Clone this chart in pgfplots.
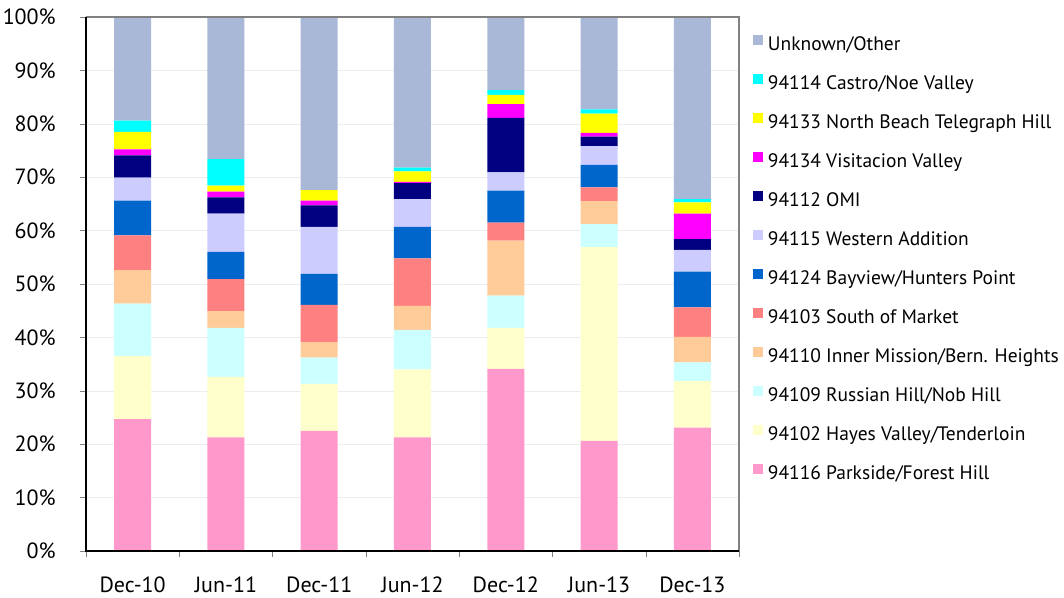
\documentclass[border=0pt]{standalone}
\usepackage{pgfplots}
\pgfplotsset{compat=1.18}
\usepackage{pgfplotstable}
\usepackage{fontspec}
\setmainfont{PT Sans}
\definecolor{cgray}{HTML}{A8B8D6}
\definecolor{ccyan}{HTML}{00FFFF}
\definecolor{cyel}{HTML}{FFFF00}
\definecolor{cmag}{HTML}{FF00FF}
\definecolor{cnavy}{HTML}{000080}
\definecolor{clav}{HTML}{CCCCFF}
\definecolor{cblue}{HTML}{0066CC}
\definecolor{csal}{HTML}{FF8080}
\definecolor{cpeach}{HTML}{FFCC99}
\definecolor{clc}{HTML}{CCFFFF}
\definecolor{cly}{HTML}{FFFFCC}
\definecolor{cpink}{HTML}{FF99CC}
\pgfplotstableread{
x pink ly lc peach salmon blue lav navy mag yel cyan gray
0 24.7 11.8 9.8 6.3 6.5 6.5 4.3 4.2 1.1 3.3 2.1 19.4
1 21.3 11.3 9.2 3.1 6.0 5.1 7.2 3.0 1.1 1.1 5.0 26.6
2 22.5 8.8 4.9 2.9 7.0 5.8 8.8 4.0 0.9 2.0 0.0 32.4
3 21.3 12.7 7.4 4.5 8.9 5.9 5.2 3.0 0.2 2.0 0.7 28.2
4 34.1 7.7 6.0 10.3 3.4 6.0 3.4 10.2 2.6 1.7 0.9 13.7
5 20.6 36.3 4.3 4.3 2.6 4.2 3.5 1.8 0.7 3.6 0.8 17.3
6 23.1 8.7 3.5 4.8 5.5 6.7 4.1 2.0 4.8 2.1 0.6 34.1
}\data
\begin{document}
\begin{tikzpicture}
\useasboundingbox (-64.5pt,-35.25pt) rectangle (733.5pt,413.25pt);
\begin{axis}[
  at={(0,0)}, anchor=south west,
  scale only axis, width=489.75pt, height=400.5pt,
  ybar stacked, bar width=27.75pt,
  xmin=-0.5, xmax=6.5, ymin=0, ymax=100,
  xtick={0,...,6},
  xticklabels={Dec-10,Jun-11,Dec-11,Jun-12,Dec-12,Jun-13,Dec-13},
  major x tick style={draw=none},
  minor xtick={-0.5,0.5,1.5,2.5,3.5,4.5,5.5,6.5},
  minor x tick style={gray},
  minor tick length=4.5pt,
  major tick length=4.5pt,
  tick align=outside,
  xtick pos=bottom, ytick pos=left,
  ytick={0,10,...,100},
  yticklabel={\pgfmathprintnumber{\tick}\%},
  y tick style={gray},
  ymajorgrids, grid style={color=black!7},
  axis line style={draw=none},
  /pgf/number format/assume math mode=true,
  ticklabel style={font=\fontsize{16.5}{19}\selectfont},
  xticklabel style={anchor=base, inner sep=0pt, yshift=-27pt},
  yticklabel style={anchor=east, inner sep=0pt, xshift=-18pt},
  legend style={at={(rel axis cs:1,1)}, anchor=north west, xshift=10.5pt, yshift=-13.2pt,
    draw=none, fill=none, inner sep=0pt, outer sep=0pt,
    font=\fontsize{14.6}{18}\selectfont, row sep=14pt, column sep=3.75pt,
    nodes={inner sep=0pt, text height=11pt, text depth=3pt}},
  legend cell align=left,
  reverse legend,
  legend image code/.code={\fill[#1] (0pt,0.75pt) rectangle (7.5pt,8.25pt);},
]
\addplot[fill=cpink, draw=none] table[x=x, y=pink] {\data};
\addplot[fill=cly, draw=none] table[x=x, y=ly] {\data};
\addplot[fill=clc, draw=none] table[x=x, y=lc] {\data};
\addplot[fill=cpeach, draw=none] table[x=x, y=peach] {\data};
\addplot[fill=csal, draw=none] table[x=x, y=salmon] {\data};
\addplot[fill=cblue, draw=none] table[x=x, y=blue] {\data};
\addplot[fill=clav, draw=none] table[x=x, y=lav] {\data};
\addplot[fill=cnavy, draw=none] table[x=x, y=navy] {\data};
\addplot[fill=cmag, draw=none] table[x=x, y=mag] {\data};
\addplot[fill=cyel, draw=none] table[x=x, y=yel] {\data};
\addplot[fill=ccyan, draw=none] table[x=x, y=cyan] {\data};
\addplot[fill=cgray, draw=none] table[x=x, y=gray] {\data};
\legend{94116 Parkside/Forest Hill, 94102 Hayes Valley/Tenderloin, 94109 Russian Hill/Nob Hill, 94110 Inner Mission/Bern. Heights, 94103 South of Market, 94124 Bayview/Hunters Point, 94115 Western Addition, 94112 OMI, 94134 Visitacion Valley, 94133 North Beach Telegraph Hill, 94114 Castro/Noe Valley, Unknown/Other}
\end{axis}
\draw[gray, line width=1pt] (0pt,400.5pt) -- (489.75pt,400.5pt) -- (489.75pt,0pt);
\draw[black, line width=0.8pt] (0pt,400.5pt) -- (0pt,0pt) -- (489.75pt,0pt);
\end{tikzpicture}
\end{document}
